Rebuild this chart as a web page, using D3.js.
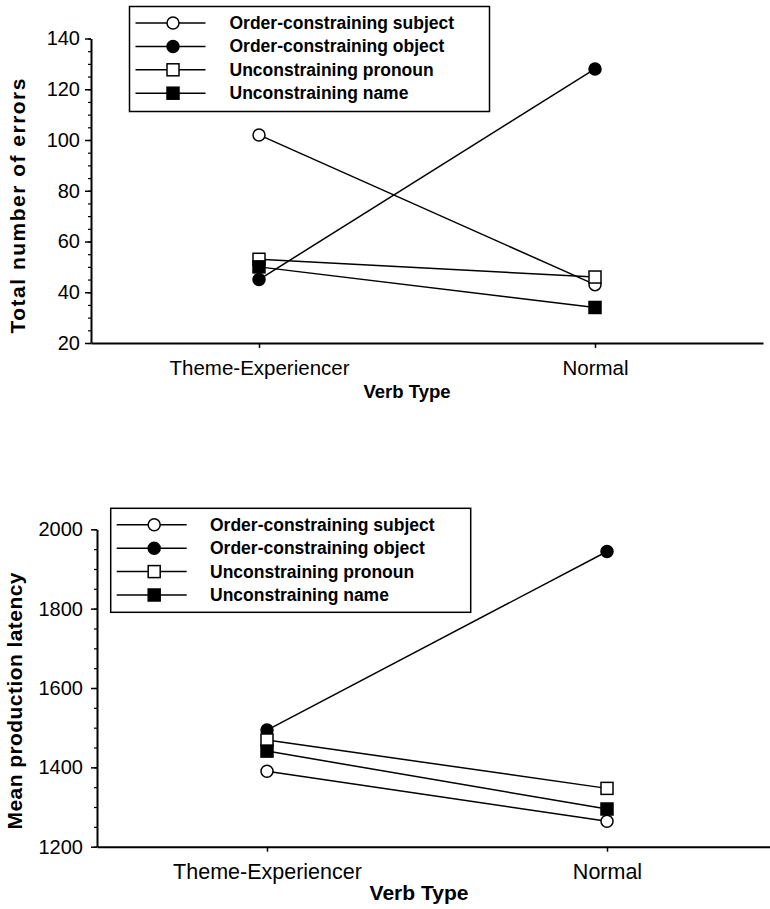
<!DOCTYPE html>
<html>
<head>
<meta charset="utf-8">
<script src="https://cdn.jsdelivr.net/npm/d3@7"></script>
<style>
  body { margin: 0; background: #fff; }
  svg { display: block; font-family: "Liberation Sans", Arial, Helvetica, sans-serif; }
  .axis path, .axis line { stroke: #000; }
</style>
</head>
<body>
<div id="vis"></div>
<script>
const categories = ["Theme-Experiencer", "Normal"];
const seriesNames = [
  "Order-constraining subject",
  "Order-constraining object",
  "Unconstraining pronoun",
  "Unconstraining name"
];
const markerShapes = ["circle", "circle", "square", "square"];
const markerFilled = [false, true, false, true];

// panel 1: total number of errors
const errorsSubject = [102, 43];
const errorsObject = [45, 128];
const errorsPronoun = [53, 46];
const errorsName = [50, 34];
const errorTicks = [20, 40, 60, 80, 100, 120, 140];

// panel 2: mean production latency
const latencySubject = [1390, 1264];
const latencyObject = [1494, 1944];
const latencyPronoun = [1469, 1347];
const latencyName = [1441, 1295];
const latencyTicks = [1200, 1400, 1600, 1800, 2000];

const width = 770, height = 909;

const svg = d3.select("#vis")
  .append("svg")
  .attr("width", width)
  .attr("height", height);

function drawPanel(p) {
  const g = svg.append("g");

  const x = d3.scalePoint()
    .domain(categories)
    .range([p.left, p.right])
    .padding(0.5);

  const y = d3.scaleLinear()
    .domain(p.domain)
    .range([p.bottom, p.top]);

  // minor ticks first, then the major axis over them
  g.append("g")
    .attr("class", "axis")
    .attr("transform", "translate(" + p.left + ",0)")
    .call(d3.axisLeft(y).tickValues(d3.range(p.domain[0], p.domain[1] + 1, p.minor)).tickSize(3).tickFormat(""))
    .call(a => a.select(".domain").remove())
    .selectAll("line").attr("stroke-width", 1.2);

  const yAxis = g.append("g")
    .attr("class", "axis")
    .attr("transform", "translate(" + p.left + ",0)")
    .call(d3.axisLeft(y).tickValues(p.ticks).tickFormat(d3.format("d"))
      .tickSize(6).tickPadding(p.tickPad).tickSizeOuter(0));
  yAxis.select(".domain").attr("stroke-width", 2);
  yAxis.selectAll("line").attr("stroke-width", 1.5);
  yAxis.selectAll("text")
    .attr("font-size", 20)
    .attr("fill", "#000")
    .attr("font-family", "Liberation Sans, Arial, sans-serif");

  const xAxis = g.append("g")
    .attr("class", "axis")
    .attr("transform", "translate(0," + p.bottom + ")")
    .call(d3.axisBottom(x).tickSize(5).tickPadding(12).tickSizeOuter(0));
  xAxis.select(".domain").attr("stroke-width", 2);
  xAxis.selectAll("line").attr("stroke-width", 1.5);
  xAxis.selectAll("text")
    .attr("font-size", p.catSize)
    .attr("fill", "#000")
    .attr("font-family", "Liberation Sans, Arial, sans-serif");

  // axis titles
  g.append("text")
    .attr("x", p.xTitleX)
    .attr("y", p.xTitleY)
    .attr("text-anchor", "middle")
    .attr("font-weight", "bold")
    .attr("font-size", p.xTitleSize)
    .text("Verb Type");

  g.append("text")
    .attr("transform", "translate(" + p.yTitleX + "," + p.yTitleY + ") rotate(-90)")
    .attr("text-anchor", "middle")
    .attr("font-weight", "bold")
    .attr("font-size", 21)
    .attr("textLength", p.yTitleLen)
    .attr("lengthAdjust", "spacing")
    .text(p.yTitle);

  const line = d3.line()
    .x((d, i) => x(categories[i]))
    .y(d => y(d));

  p.series.forEach(s => {
    g.append("path")
      .attr("d", line(s))
      .attr("fill", "none")
      .attr("stroke", "#000")
      .attr("stroke-width", 1.5);
  });

  p.order.forEach(k => {
    p.series[k].forEach((v, i) => {
      drawMarker(g, x(categories[i]), y(v), k);
    });
  });

  // legend
  const lg = g.append("g")
    .attr("transform", "translate(" + p.legendX + "," + p.legendY + ")");
  lg.append("rect")
    .attr("width", 360)
    .attr("height", p.legendH)
    .attr("fill", "#fff")
    .attr("stroke", "#000")
    .attr("stroke-width", 1.5);
  seriesNames.forEach((name, k) => {
    const ry = 16.5 + k * 23.4;
    lg.append("line")
      .attr("x1", 6).attr("x2", 76)
      .attr("y1", ry).attr("y2", ry)
      .attr("stroke", "#000")
      .attr("stroke-width", 1.5);
    drawMarker(lg, 43.5, ry, k);
    lg.append("text")
      .attr("x", p.legendTextX)
      .attr("y", ry + 6)
      .attr("font-weight", "bold")
      .attr("font-size", 17.5)
      .text(name);
  });
}

function drawMarker(g, cx, cy, k) {
  const fill = markerFilled[k] ? "#000" : "#fff";
  if (markerShapes[k] === "circle") {
    g.append("circle")
      .attr("cx", cx).attr("cy", cy).attr("r", 6)
      .attr("fill", fill).attr("stroke", "#000").attr("stroke-width", 1.5);
  } else {
    g.append("rect")
      .attr("x", cx - 6).attr("y", cy - 6)
      .attr("width", 12).attr("height", 12)
      .attr("fill", fill).attr("stroke", "#000").attr("stroke-width", 1.5);
  }
}

drawPanel({
  domain: [20, 140], ticks: errorTicks, minor: 5,
  series: [errorsSubject, errorsObject, errorsPronoun, errorsName],
  order: [0, 1, 2, 3],
  left: 91, right: 763, top: 38.5, bottom: 343,
  tickPad: 5, catSize: 20.5,
  xTitleX: 407, xTitleY: 398, xTitleSize: 18.5,
  yTitle: "Total number of errors", yTitleX: 25, yTitleY: 206, yTitleLen: 255,
  legendX: 129.5, legendY: 6.5, legendH: 105, legendTextX: 100
});

drawPanel({
  domain: [1200, 2000], ticks: latencyTicks, minor: 50,
  series: [latencySubject, latencyObject, latencyPronoun, latencyName],
  order: [1, 2, 3, 0],
  left: 97, right: 777, top: 529.3, bottom: 846.7,
  tickPad: 8, catSize: 21.5,
  xTitleX: 419, xTitleY: 900, xTitleSize: 21,
  yTitle: "Mean production latency", yTitleX: 22, yTitleY: 701, yTitleLen: 257,
  legendX: 110.7, legendY: 508.3, legendH: 104, legendTextX: 99.3
});
</script>
</body>
</html>
